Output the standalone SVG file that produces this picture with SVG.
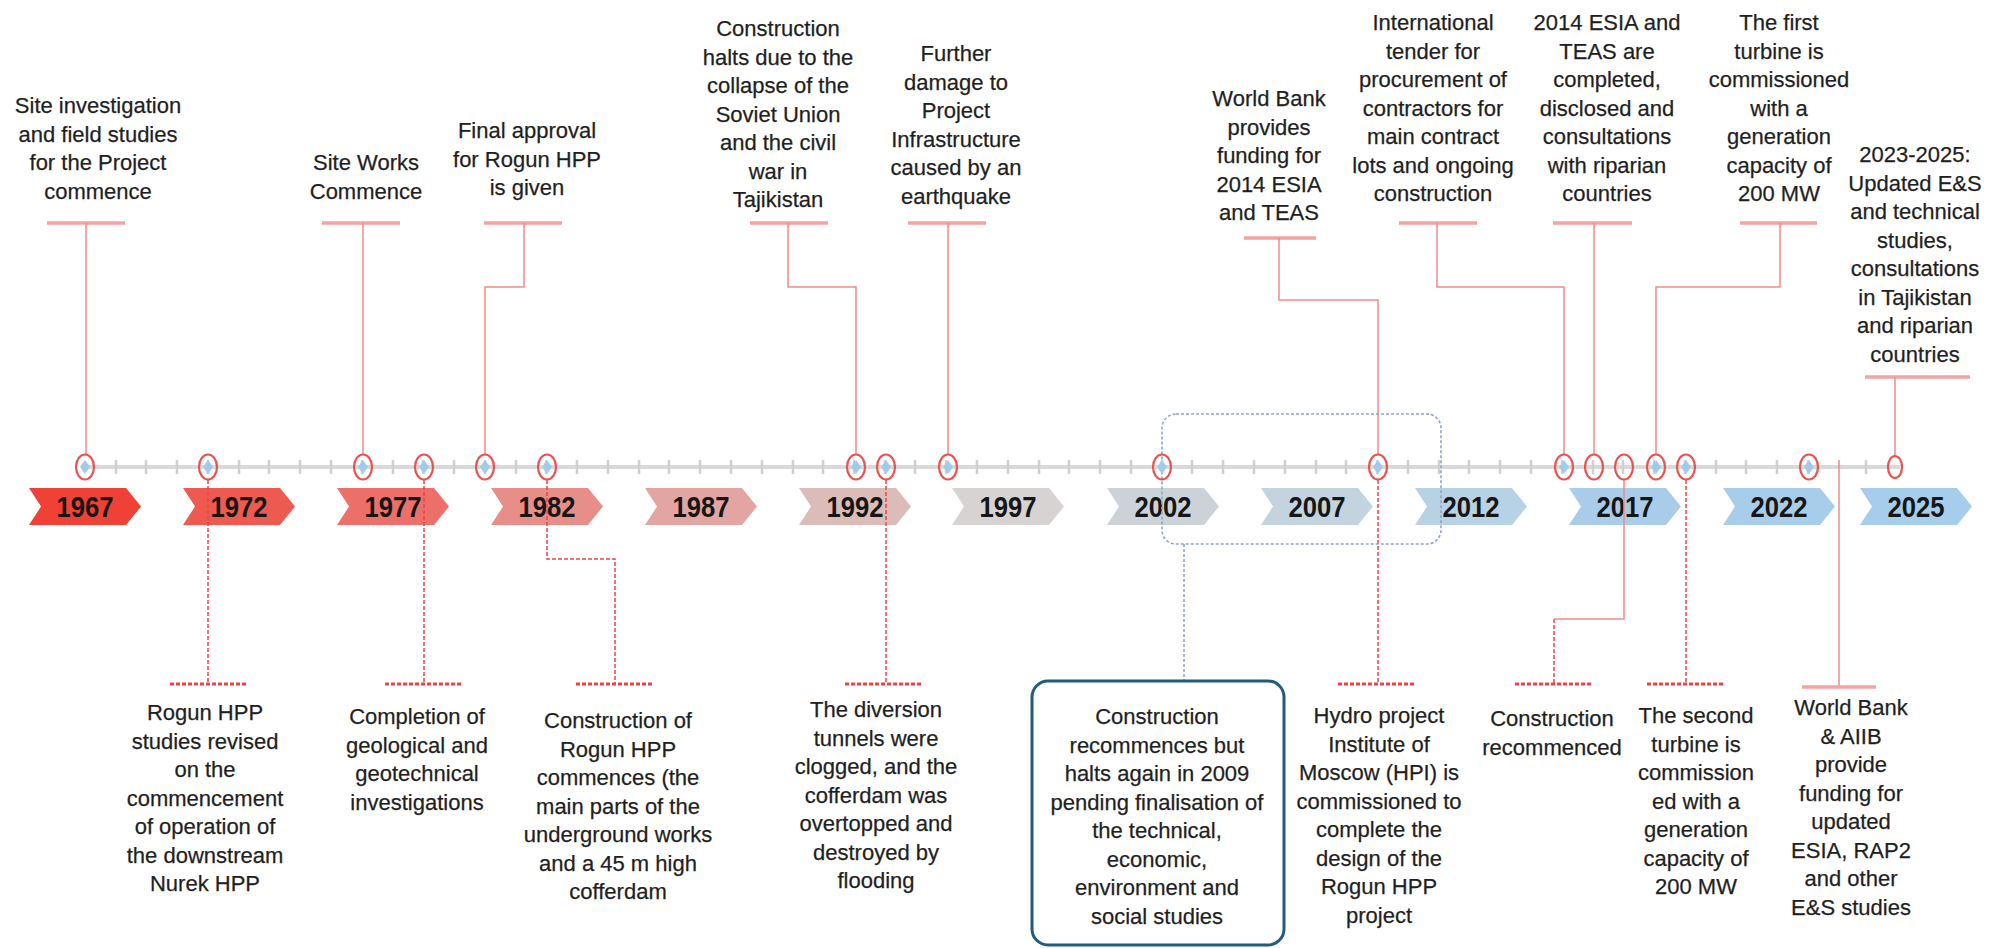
<svg xmlns="http://www.w3.org/2000/svg" width="1990" height="948" viewBox="0 0 1990 948">
<style>
.lbl{font-family:"Liberation Sans",Arial,sans-serif;font-size:22px;fill:#1f1f1f;stroke:#1f1f1f;stroke-width:0.25;text-anchor:middle}
.yr{font-family:"Liberation Sans",Arial,sans-serif;font-size:29px;font-weight:bold;fill:#161616;text-anchor:middle}
.up{fill:none;stroke:#f08a8a;stroke-width:1.5}
.upbar{fill:none;stroke:#f4a3a3;stroke-width:3.5}
.dn{fill:none;stroke:#e8454b;stroke-width:1.5;stroke-dasharray:4 2}
.dnbar{fill:none;stroke:#e8454b;stroke-width:3;stroke-dasharray:4 2}
.ring{fill:none;stroke:#e9534f;stroke-width:2.2}
.dia{fill:#a0cbec}
.tick{stroke:#d0d0d0;stroke-width:2.5}
</style>
<rect width="1990" height="948" fill="#ffffff"/>

<!-- axis -->
<g id="axis">
<line x1="85" y1="467" x2="1900" y2="467" stroke="#d9d9d9" stroke-width="4"/>
<path class="tick" d="M116,460v14M146,460v14M177,460v14M208,460v14M239,460v14M269,460v14M300,460v14M331,460v14M362,460v14M393,460v14M423,460v14M454,460v14M485,460v14M516,460v14M546,460v14M577,460v14M608,460v14M639,460v14M669,460v14M700,460v14M731,460v14M762,460v14M793,460v14M823,460v14M854,460v14M885,460v14M915,460v14M946,460v14M977,460v14M1008,460v14M1039,460v14M1069,460v14M1100,460v14M1131,460v14M1162,460v14M1192,460v14M1223,460v14M1254,460v14M1285,460v14M1316,460v14M1346,460v14M1377,460v14M1408,460v14M1439,460v14M1469,460v14M1500,460v14M1531,460v14M1562,460v14M1593,460v14M1623,460v14M1654,460v14M1685,460v14M1716,460v14M1746,460v14M1777,460v14M1808,460v14M1866,460v14"/>
</g>

<!-- year chevrons -->
<g id="years">
<g id="y1967"><polygon points="29,488 126,488 141,506.5 126,525 29,525 41,506.5" fill="#ef4136"/><text class="yr" x="85" y="517" textLength="57" lengthAdjust="spacingAndGlyphs">1967</text></g>
<g id="y1972"><polygon points="183,488 280,488 295,506.5 280,525 183,525 195,506.5" fill="#ee5a50"/><text class="yr" x="239" y="517" textLength="57" lengthAdjust="spacingAndGlyphs">1972</text></g>
<g id="y1977"><polygon points="337,488 434,488 449,506.5 434,525 337,525 349,506.5" fill="#ec7069"/><text class="yr" x="393" y="517" textLength="57" lengthAdjust="spacingAndGlyphs">1977</text></g>
<g id="y1982"><polygon points="491,488 588,488 603,506.5 588,525 491,525 503,506.5" fill="#e78e89"/><text class="yr" x="547" y="517" textLength="57" lengthAdjust="spacingAndGlyphs">1982</text></g>
<g id="y1987"><polygon points="645,488 742,488 757,506.5 742,525 645,525 657,506.5" fill="#e3a5a2"/><text class="yr" x="701" y="517" textLength="57" lengthAdjust="spacingAndGlyphs">1987</text></g>
<g id="y1992"><polygon points="799,488 896,488 911,506.5 896,525 799,525 811,506.5" fill="#dcbcb9"/><text class="yr" x="855" y="517" textLength="57" lengthAdjust="spacingAndGlyphs">1992</text></g>
<g id="y1997"><polygon points="952,488 1049,488 1064,506.5 1049,525 952,525 964,506.5" fill="#d6d3d2"/><text class="yr" x="1008" y="517" textLength="57" lengthAdjust="spacingAndGlyphs">1997</text></g>
<g id="y2002"><polygon points="1107,488 1204,488 1219,506.5 1204,525 1107,525 1119,506.5" fill="#ccd3d8"/><text class="yr" x="1163" y="517" textLength="57" lengthAdjust="spacingAndGlyphs">2002</text></g>
<g id="y2007"><polygon points="1261,488 1358,488 1373,506.5 1358,525 1261,525 1273,506.5" fill="#c3d4df"/><text class="yr" x="1317" y="517" textLength="57" lengthAdjust="spacingAndGlyphs">2007</text></g>
<g id="y2012"><polygon points="1415,488 1512,488 1527,506.5 1512,525 1415,525 1427,506.5" fill="#b8d2e5"/><text class="yr" x="1471" y="517" textLength="57" lengthAdjust="spacingAndGlyphs">2012</text></g>
<g id="y2017"><polygon points="1569,488 1666,488 1681,506.5 1666,525 1569,525 1581,506.5" fill="#a9cce8"/><text class="yr" x="1625" y="517" textLength="57" lengthAdjust="spacingAndGlyphs">2017</text></g>
<g id="y2022"><polygon points="1723,488 1820,488 1835,506.5 1820,525 1723,525 1735,506.5" fill="#a8cdea"/><text class="yr" x="1779" y="517" textLength="57" lengthAdjust="spacingAndGlyphs">2022</text></g>
<g id="y2025"><polygon points="1860,488 1957,488 1972,506.5 1957,525 1860,525 1872,506.5" fill="#a6cdeb"/><text class="yr" x="1916" y="517" textLength="57" lengthAdjust="spacingAndGlyphs">2025</text></g>
</g>

<!-- connectors -->
<g id="connectors">
<path class="upbar" d="M47,223H125M322,223H400M484,223H562M750,223H828M908,223H986M1244,238H1316M1399,223H1477M1553,223H1632M1740,223H1817M1865,377H1970"/>
<path class="up" d="M86,223V455M363,223V455M524,223V287H485V455M788,223V287H856V455M948,223V455M1279,238V300H1378V455M1437,223V287H1564V455M1594,223V455M1780,223V287H1656V455M1895,377V455"/>
<path class="dnbar" d="M170,684H248M385,684H463M576,684H654M845,684H923M1338,684H1415M1515,684H1592M1647,684H1723"/>
<path class="dn" d="M208,480V684M424,480V684M547,480V559H615V684M886,480V684M1378,480V684M1686,480V684M1554,619V684"/>
<path class="up" d="M1624,480V619H1554"/>
<path class="up" d="M1839,460V687"/>
<path class="upbar" d="M1802,687H1876"/>
<rect x="1162" y="414" width="279" height="130" rx="14" fill="none" stroke="#8da7c2" stroke-width="1.6" stroke-dasharray="3 2"/>
<path d="M1184,544V680" fill="none" stroke="#8da7c2" stroke-width="1.6" stroke-dasharray="3 2"/>
</g>

<!-- event markers -->
<g id="markers">
<g><ellipse class="ring" cx="85" cy="467" rx="9" ry="12.5"/><polygon class="dia" points="85,460 90,467 85,474 80,467"/></g>
<g><ellipse class="ring" cx="208" cy="467" rx="9" ry="12.5"/><polygon class="dia" points="208,460 213,467 208,474 203,467"/></g>
<g><ellipse class="ring" cx="363" cy="467" rx="9" ry="12.5"/><polygon class="dia" points="363,460 368,467 363,474 358,467"/></g>
<g><ellipse class="ring" cx="424" cy="467" rx="9" ry="12.5"/><polygon class="dia" points="424,460 429,467 424,474 419,467"/></g>
<g><ellipse class="ring" cx="485" cy="467" rx="9" ry="12.5"/><polygon class="dia" points="485,460 490,467 485,474 480,467"/></g>
<g><ellipse class="ring" cx="547" cy="467" rx="9" ry="12.5"/><polygon class="dia" points="547,460 552,467 547,474 542,467"/></g>
<g><ellipse class="ring" cx="856" cy="467" rx="9" ry="12.5"/><polygon class="dia" points="856,460 861,467 856,474 851,467"/></g>
<g><ellipse class="ring" cx="886" cy="467" rx="9" ry="12.5"/><polygon class="dia" points="886,460 891,467 886,474 881,467"/></g>
<g><ellipse class="ring" cx="948" cy="467" rx="9" ry="12.5"/><polygon class="dia" points="948,460 953,467 948,474 943,467"/></g>
<g><ellipse class="ring" cx="1162" cy="467" rx="9" ry="12.5"/><polygon class="dia" points="1162,460 1167,467 1162,474 1157,467"/></g>
<g><ellipse class="ring" cx="1378" cy="467" rx="9" ry="12.5"/><polygon class="dia" points="1378,460 1383,467 1378,474 1373,467"/></g>
<g><ellipse class="ring" cx="1564" cy="467" rx="9" ry="12.5"/><polygon class="dia" points="1564,460 1569,467 1564,474 1559,467"/></g>
<g><ellipse class="ring" cx="1594" cy="467" rx="9" ry="12.5"/></g>
<g><ellipse class="ring" cx="1624" cy="467" rx="9" ry="12.5"/></g>
<g><ellipse class="ring" cx="1656" cy="467" rx="9" ry="12.5"/><polygon class="dia" points="1656,460 1661,467 1656,474 1651,467"/></g>
<g><ellipse class="ring" cx="1686" cy="467" rx="9" ry="12.5"/><polygon class="dia" points="1686,460 1691,467 1686,474 1681,467"/></g>
<g><ellipse class="ring" cx="1809" cy="467" rx="9" ry="12.5"/><polygon class="dia" points="1809,460 1814,467 1809,474 1804,467"/></g>
<g><ellipse class="ring" cx="1895" cy="467" rx="7" ry="11" stroke-width="2.8"/></g>
</g>

<!-- upper labels -->
<g id="ev1967"><text class="lbl" x="98" y="113">Site investigation<tspan x="98" dy="28.5">and field studies</tspan><tspan x="98" dy="28.5">for the Project</tspan><tspan x="98" dy="28.5">commence</tspan></text></g>
<g id="ev1976"><text class="lbl" x="366" y="170">Site Works<tspan x="366" dy="28.5">Commence</tspan></text></g>
<g id="ev1980"><text class="lbl" x="527" y="138">Final approval<tspan x="527" dy="28.5">for Rogun HPP</tspan><tspan x="527" dy="28.5">is given</tspan></text></g>
<g id="ev1991"><text class="lbl" x="778" y="36">Construction<tspan x="778" dy="28.5">halts due to the</tspan><tspan x="778" dy="28.5">collapse of the</tspan><tspan x="778" dy="28.5">Soviet Union</tspan><tspan x="778" dy="28.5">and the civil</tspan><tspan x="778" dy="28.5">war in</tspan><tspan x="778" dy="28.5">Tajikistan</tspan></text></g>
<g id="ev1993"><text class="lbl" x="956" y="61">Further<tspan x="956" dy="28.5">damage to</tspan><tspan x="956" dy="28.5">Project</tspan><tspan x="956" dy="28.5">Infrastructure</tspan><tspan x="956" dy="28.5">caused by an</tspan><tspan x="956" dy="28.5">earthquake</tspan></text></g>
<g id="ev2009a"><text class="lbl" x="1269" y="106">World Bank<tspan x="1269" dy="28.5">provides</tspan><tspan x="1269" dy="28.5">funding for</tspan><tspan x="1269" dy="28.5">2014 ESIA</tspan><tspan x="1269" dy="28.5">and TEAS</tspan></text></g>
<g id="ev2015"><text class="lbl" x="1433" y="30">International<tspan x="1433" dy="28.5">tender for</tspan><tspan x="1433" dy="28.5">procurement of</tspan><tspan x="1433" dy="28.5">contractors for</tspan><tspan x="1433" dy="28.5">main contract</tspan><tspan x="1433" dy="28.5">lots and ongoing</tspan><tspan x="1433" dy="28.5">construction</tspan></text></g>
<g id="ev2016"><text class="lbl" x="1607" y="30">2014 ESIA and<tspan x="1607" dy="28.5">TEAS are</tspan><tspan x="1607" dy="28.5">completed,</tspan><tspan x="1607" dy="28.5">disclosed and</tspan><tspan x="1607" dy="28.5">consultations</tspan><tspan x="1607" dy="28.5">with riparian</tspan><tspan x="1607" dy="28.5">countries</tspan></text></g>
<g id="ev2018"><text class="lbl" x="1779" y="30">The first<tspan x="1779" dy="28.5">turbine is</tspan><tspan x="1779" dy="28.5">commissioned</tspan><tspan x="1779" dy="28.5">with a</tspan><tspan x="1779" dy="28.5">generation</tspan><tspan x="1779" dy="28.5">capacity of</tspan><tspan x="1779" dy="28.5">200 MW</tspan></text></g>
<g id="ev2025"><text class="lbl" x="1915" y="162">2023-2025:<tspan x="1915" dy="28.5">Updated E&amp;S</tspan><tspan x="1915" dy="28.5">and technical</tspan><tspan x="1915" dy="28.5">studies,</tspan><tspan x="1915" dy="28.5">consultations</tspan><tspan x="1915" dy="28.5">in Tajikistan</tspan><tspan x="1915" dy="28.5">and riparian</tspan><tspan x="1915" dy="28.5">countries</tspan></text></g>

<!-- lower labels -->
<g id="ev1971"><text class="lbl" x="205" y="720">Rogun HPP<tspan x="205" dy="28.5">studies revised</tspan><tspan x="205" dy="28.5">on the</tspan><tspan x="205" dy="28.5">commencement</tspan><tspan x="205" dy="28.5">of operation of</tspan><tspan x="205" dy="28.5">the downstream</tspan><tspan x="205" dy="28.5">Nurek HPP</tspan></text></g>
<g id="ev1978"><text class="lbl" x="417" y="724">Completion of<tspan x="417" dy="28.5">geological and</tspan><tspan x="417" dy="28.5">geotechnical</tspan><tspan x="417" dy="28.5">investigations</tspan></text></g>
<g id="ev1982"><text class="lbl" x="618" y="728">Construction of<tspan x="618" dy="28.5">Rogun HPP</tspan><tspan x="618" dy="28.5">commences (the</tspan><tspan x="618" dy="28.5">main parts of the</tspan><tspan x="618" dy="28.5">underground works</tspan><tspan x="618" dy="28.5">and a 45 m high</tspan><tspan x="618" dy="28.5">cofferdam</tspan></text></g>
<g id="ev1993b"><text class="lbl" x="876" y="717">The diversion<tspan x="876" dy="28.5">tunnels were</tspan><tspan x="876" dy="28.5">clogged, and the</tspan><tspan x="876" dy="28.5">cofferdam was</tspan><tspan x="876" dy="28.5">overtopped and</tspan><tspan x="876" dy="28.5">destroyed by</tspan><tspan x="876" dy="28.5">flooding</tspan></text></g>
<g id="ev2002"><rect x="1032" y="681" width="252" height="264" rx="16" fill="#ffffff" stroke="#215b7d" stroke-width="3"/><text class="lbl" x="1157" y="724">Construction<tspan x="1157" dy="28.5">recommences but</tspan><tspan x="1157" dy="28.5">halts again in 2009</tspan><tspan x="1157" dy="28.5">pending finalisation of</tspan><tspan x="1157" dy="28.5">the technical,</tspan><tspan x="1157" dy="28.5">economic,</tspan><tspan x="1157" dy="28.5">environment and</tspan><tspan x="1157" dy="28.5">social studies</tspan></text></g>
<g id="ev2009b"><text class="lbl" x="1379" y="723">Hydro project<tspan x="1379" dy="28.5">Institute of</tspan><tspan x="1379" dy="28.5">Moscow (HPI) is</tspan><tspan x="1379" dy="28.5">commissioned to</tspan><tspan x="1379" dy="28.5">complete the</tspan><tspan x="1379" dy="28.5">design of the</tspan><tspan x="1379" dy="28.5">Rogun HPP</tspan><tspan x="1379" dy="28.5">project</tspan></text></g>
<g id="ev2017"><text class="lbl" x="1552" y="726">Construction<tspan x="1552" dy="28.5">recommenced</tspan></text></g>
<g id="ev2019"><text class="lbl" x="1696" y="723">The second<tspan x="1696" dy="28.5">turbine is</tspan><tspan x="1696" dy="28.5">commission</tspan><tspan x="1696" dy="28.5">ed with a</tspan><tspan x="1696" dy="28.5">generation</tspan><tspan x="1696" dy="28.5">capacity of</tspan><tspan x="1696" dy="28.5">200 MW</tspan></text></g>
<g id="ev2024"><text class="lbl" x="1851" y="715">World Bank<tspan x="1851" dy="28.5">&amp; AIIB</tspan><tspan x="1851" dy="28.5">provide</tspan><tspan x="1851" dy="28.5">funding for</tspan><tspan x="1851" dy="28.5">updated</tspan><tspan x="1851" dy="28.5">ESIA, RAP2</tspan><tspan x="1851" dy="28.5">and other</tspan><tspan x="1851" dy="28.5">E&amp;S studies</tspan></text></g>
</svg>
